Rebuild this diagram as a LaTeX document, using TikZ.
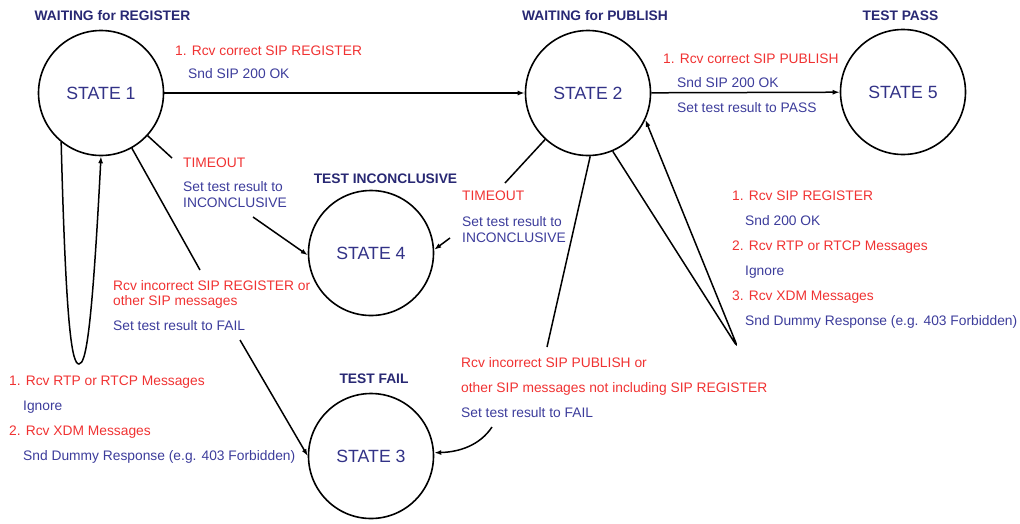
\documentclass[tikz,border=0pt]{standalone}
\usepackage{fontspec}
\setmainfont{Liberation Sans}
\usetikzlibrary{arrows.meta}

\definecolor{msgred}{RGB}{240,50,50}
\definecolor{actblue}{RGB}{60,60,155}
\definecolor{navy}{RGB}{40,40,115}
\definecolor{stateblue}{RGB}{50,50,135}

\newcommand{\lblfont}{\fontsize{13.8}{16}\selectfont}
\newcommand{\stfont}{\fontsize{17.7}{20}\selectfont}

\begin{document}
\begin{tikzpicture}[x=1pt, y=-1pt,
  state/.style={circle, draw, line width=1.6pt, minimum size=125pt, inner sep=0pt,
                font=\stfont, text=stateblue},
  title/.style={anchor=base, font=\lblfont\bfseries, text=navy, inner sep=0pt},
  msg/.style={anchor=base west, font=\lblfont, text=msgred, inner sep=0pt},
  act/.style={anchor=base west, font=\lblfont, text=actblue, inner sep=0pt},
  link/.style={line width=1.5pt},
  arr/.style={line width=1.5pt, -{Latex[length=7pt,width=5pt]}}]

\useasboundingbox (0,0) rectangle (1020,523);

% states
\node[state] (s1) at (101,93)  {STATE 1};
\node[state] (s2) at (588,93)  {STATE 2};
\node[state] (s5) at (903,92)  {STATE 5};
\node[state] (s4) at (371,253) {STATE 4};
\node[state] (s3) at (371,456) {STATE 3};

% state titles
\node[title] (h1) at (112.5,20) {WAITING for REGISTER};
\node[title] (h2) at (595,20)   {WAITING for PUBLISH};
\node[title] (h5) at (900.5,20) {TEST PASS};
\node[title] (h4) at (385.5,183) {TEST INCONCLUSIVE};
\node[title] (h3) at (374,383)  {TEST FAIL};

% break points where connectors pass behind their labels
\coordinate (t1a) at (172,158);
\coordinate (t1b) at (253,217);
\coordinate (t2a) at (505,183);
\coordinate (t2b) at (450,238);
\coordinate (f1a) at (200,270);
\coordinate (f1b) at (240,340);
\coordinate (f2a) at (547,347);
\coordinate (f2b) at (492,427);
\coordinate (l2tip) at (738,348);

% transitions
\draw[arr] (s1) -- (s2);
\draw[arr] (s2) -- (s5);

\draw[link] (s1) -- (t1a);
\draw[arr] (t1b) -- (s4.182);

\draw[link] (s2) -- (t2a);
\draw[arr] (t2b) -- (s4.3);

\draw[link] (s1) -- (f1a);
\draw[arr] (f1b) -- (s3.180);

\draw[link] (s2.272) -- (f2a);
\draw[arr] (f2b) .. controls (480,445) and (460,452) .. (s3.3);

% self loops
\draw[arr] (s1.231) .. controls (66,330) and (72,364) .. (79,364)
                    .. controls (86,364) and (92,330) .. (s1.270);
\draw[arr, rounded corners=7pt] (s2.293) -- (l2tip) -- (s2.335);

% STATE 1 -> STATE 2
\node[msg] (m12a) at (175,55) {1. Rcv correct SIP REGISTER};
\node[act] (m12b) at (188,78) {Snd SIP 200 OK};

% STATE 2 -> STATE 5
\node[msg] (m25a) at (663,63)  {1. Rcv correct SIP PUBLISH};
\node[act] (m25b) at (677,87)  {Snd SIP 200 OK};
\node[act] (m25c) at (677,112) {Set test result to PASS};

% STATE 1 -> STATE 4
\node[msg] (m14a) at (183,167) {TIMEOUT};
\node[act] (m14b) at (183,191) {Set test result to};
\node[act] (m14c) at (183,207) {INCONCLUSIVE};

% STATE 2 -> STATE 4
\node[msg] (m24a) at (462,200) {TIMEOUT};
\node[act] (m24b) at (462,226) {Set test result to};
\node[act] (m24c) at (462,242) {INCONCLUSIVE};

% STATE 1 -> STATE 3
\node[msg] (m13a) at (113,290) {Rcv incorrect SIP REGISTER or};
\node[msg] (m13b) at (113,305) {other SIP messages};
\node[act] (m13c) at (113,330) {Set test result to FAIL};

% STATE 2 -> STATE 3
\node[msg] (m23a) at (461,367) {Rcv incorrect SIP PUBLISH or};
\node[msg] (m23b) at (461,392) {other SIP messages not including SIP REGISTER};
\node[act] (m23c) at (461,417) {Set test result to FAIL};

% STATE 1 self loop
\node[msg] (m11a) at (9,385)  {1. Rcv RTP or RTCP Messages};
\node[act] (m11b) at (23,410) {Ignore};
\node[msg] (m11c) at (9,435)  {2. Rcv XDM Messages};
\node[act] (m11d) at (23,460) {Snd Dummy Response (e.g. 403 Forbidden)};

% STATE 2 self loop
\node[msg] (m22a) at (732,200) {1. Rcv SIP REGISTER};
\node[act] (m22b) at (745,225) {Snd 200 OK};
\node[msg] (m22c) at (732,250) {2. Rcv RTP or RTCP Messages};
\node[act] (m22d) at (745,275) {Ignore};
\node[msg] (m22e) at (732,300) {3. Rcv XDM Messages};
\node[act] (m22f) at (745,325) {Snd Dummy Response (e.g. 403 Forbidden)};

\end{tikzpicture}
\end{document}
